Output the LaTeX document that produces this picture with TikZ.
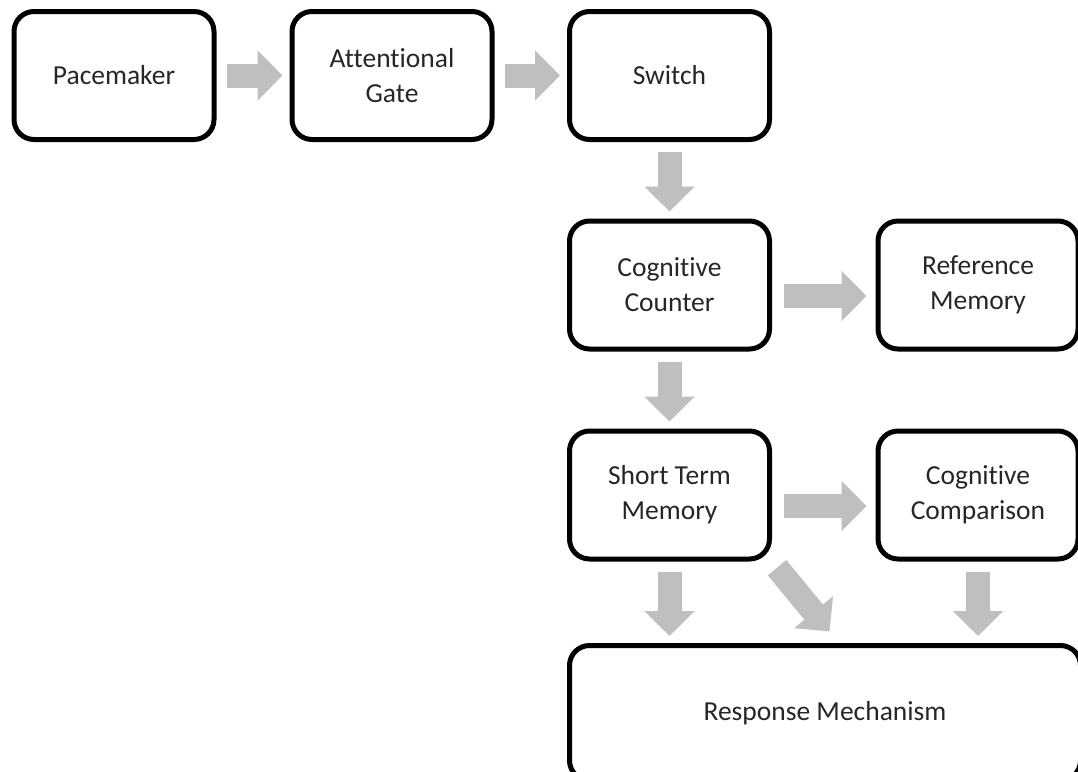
\documentclass[tikz,border=0pt]{standalone}
\usepackage{fontspec}
\setmainfont{Carlito}[Ligatures=NoCommon]
\usetikzlibrary{arrows.meta}

\begin{document}
\begin{tikzpicture}[x=1pt,y=-1pt]
\useasboundingbox (0,0) rectangle (1078,771);
\clip (0,0) rectangle (1078,771);
\begin{scope}[every node/.style={rectangle,rounded corners=20pt,line width=5pt,draw,
              align=center,minimum width=200pt,minimum height=128pt,text=black!85,
              font=\fontsize{27.5}{35}\selectfont}]
    \node (pace) at (114,75.5) {Pacemaker};
    \node (gate) at (392,75.5) {Attentional\\Gate};
    \node (switch) at (669.5,75.5) {Switch};
    \node (counter) at (669.5,285) {Cognitive\\Counter};
    \node (refmem) at (978,285) {Reference\\Memory};
    \node (stm) at (669.5,495) {Short Term\\Memory};
    \node (compare) at (978,495) {Cognitive\\Comparison};
    \node[minimum width=511pt,minimum height=135pt] (resp) at (825,713) {Response Mechanism};
\end{scope}
\begin{scope}[>={Triangle[width=49pt,length=25pt]},
              every edge/.style={draw=black!25,line width=24pt,shorten <=10pt,shorten >=7pt}]
    \path [->] (pace) edge (gate);
    \path [->] (gate) edge (switch);
    \path [->] (switch) edge (counter);
    \path [->] (counter) edge (stm);
    \path [->] ([yshift=-11pt]counter.east) edge[shorten <=12pt,shorten >=9pt] ([yshift=-11pt]refmem.west);
    \path [->] ([yshift=-11pt]stm.east) edge[shorten <=12pt,shorten >=9pt] ([yshift=-11pt]compare.west);
    \path [->] (stm.south) edge (stm.south |- resp.north);
    \path [->] (compare.south) edge (compare.south |- resp.north);
    \coordinate (diag) at ([xshift=67pt]stm.south east);
    \path [->] (stm.south east) edge[shorten <=8pt,shorten >=15pt] (diag |- resp.north);
\end{scope}
\end{tikzpicture}
\end{document}
